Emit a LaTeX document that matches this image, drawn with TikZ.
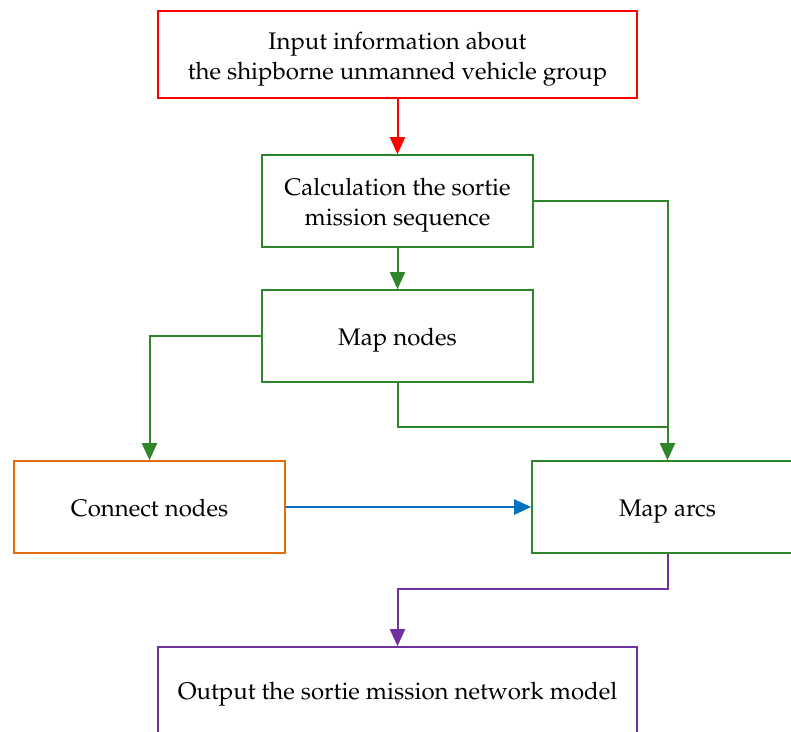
\documentclass[tikz,border=0pt]{standalone}
\usepackage[T1]{fontenc}
\usepackage{mathpazo}
\usetikzlibrary{arrows.meta}
\definecolor{cred}{RGB}{255,0,0}
\definecolor{cgreen}{RGB}{47,133,42}
\definecolor{corange}{RGB}{228,108,10}
\definecolor{cblue}{RGB}{0,112,192}
\definecolor{cpurple}{RGB}{112,48,160}
% invisible strut that lowers the text block inside its box
\newcommand{\liftstrut}[1]{\rule[-6pt]{0pt}{#1}}
\tikzset{
  stepbox/.style={draw, line width=1.6pt, fill=white, align=center,
    inner sep=0pt, font=\fontsize{24}{30}\selectfont},
  flow/.style={line width=2pt, -{Triangle[length=17pt,width=15pt]}},
  link/.style={line width=2pt}
}
\begin{document}
\begin{tikzpicture}[x=1pt,y=-1pt]
\useasboundingbox (0,0) rectangle (791,731);
\clip (0,0) rectangle (791,731);
% boxes
\node[stepbox, draw=cred, minimum width=479pt, minimum height=87pt] (input) at (397.5,54.5)
  {\liftstrut{32pt}Input information about\\the shipborne unmanned vehicle group};
\node[stepbox, draw=cgreen, minimum width=271pt, minimum height=92pt] (calc) at (397.5,201)
  {\liftstrut{31pt}Calculation the sortie\\mission sequence};
\node[stepbox, draw=cgreen, minimum width=271pt, minimum height=92pt] (mapn) at (397.5,336)
  {\liftstrut{31pt}Map nodes};
\node[stepbox, draw=corange, minimum width=271pt, minimum height=92pt] (conn) at (149.5,507)
  {\liftstrut{31pt}Connect nodes};
\node[stepbox, draw=cgreen, minimum width=271pt, minimum height=92pt] (mapa) at (667.5,507)
  {\liftstrut{31pt}Map arcs};
\node[stepbox, draw=cpurple, minimum width=479pt, minimum height=92pt] (out) at (397.5,693)
  {\liftstrut{25pt}Output the sortie mission network model};
% connectors
\coordinate (j1) at (667.5,427);
\draw[flow, cred] (input.south) -- (calc.north);
\draw[flow, cgreen] (calc.south) -- (mapn.north);
\draw[flow, cgreen] (calc.east) -| (mapa.north);
\draw[flow, cgreen] (mapn.west) -| (conn.north);
\draw[link, cgreen] (mapn.south) |- (j1);
\draw[flow, cblue] (conn.east) -- (mapa.west);
\draw[flow, cpurple] (mapa.south) -- ++(0,35) -| (out.north);
\end{tikzpicture}
\end{document}
